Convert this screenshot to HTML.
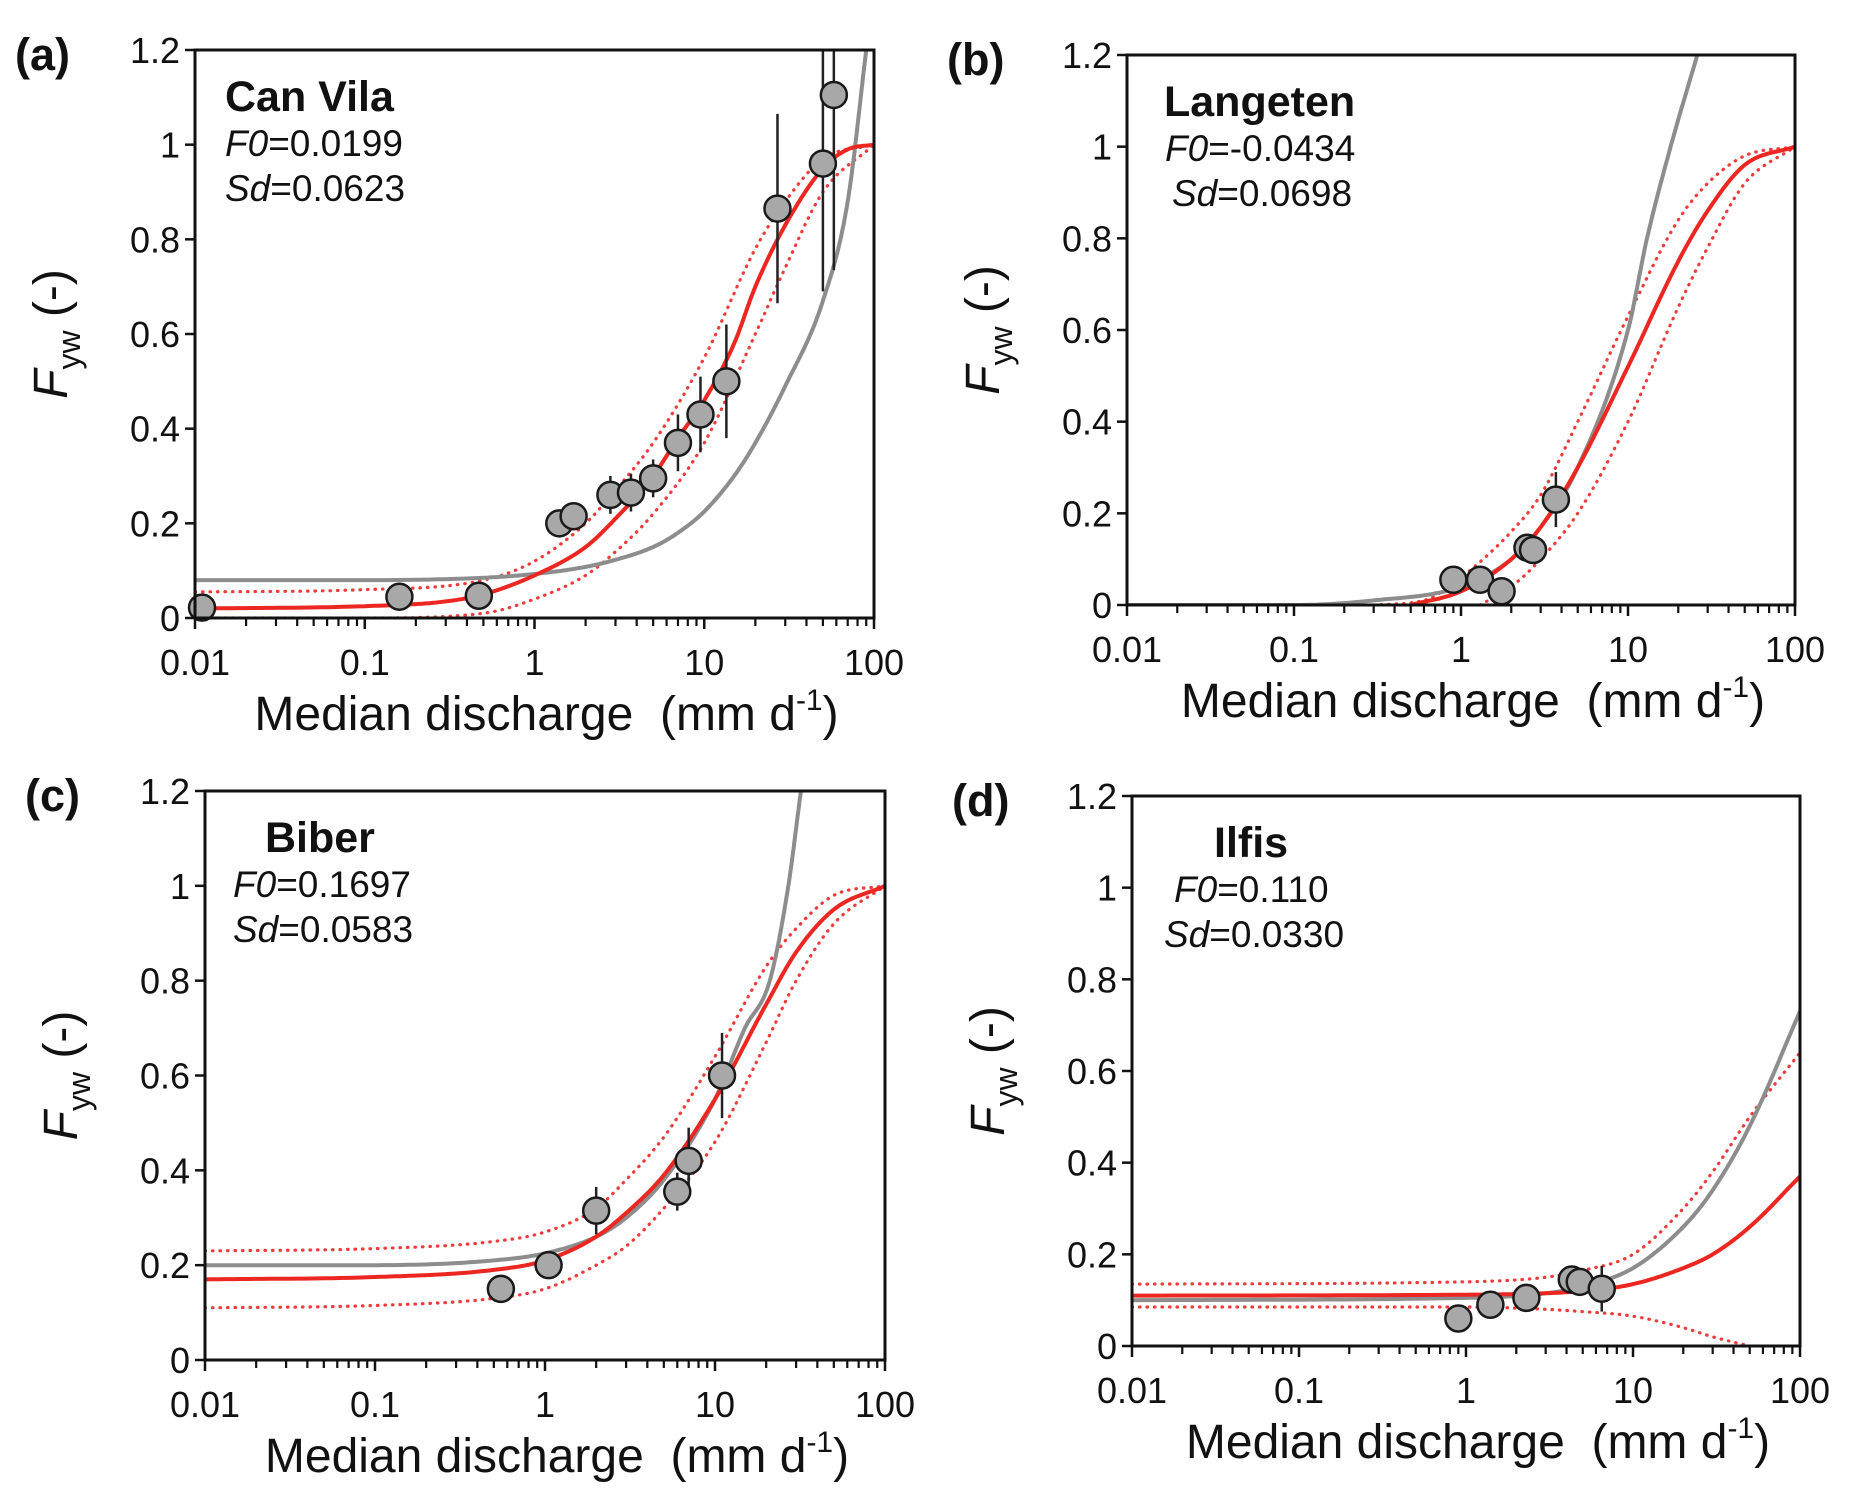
<!DOCTYPE html>
<html><head><meta charset="utf-8"><style>
html,body{margin:0;padding:0;background:#fff;}
svg{display:block;font-family:"Liberation Sans",Arial,sans-serif;}
</style></head><body>
<svg id="fig" width="1874" height="1495" viewBox="0 0 1874 1495" xmlns="http://www.w3.org/2000/svg"></svg>
<script>
// ---- data ----
const yTickLabels = ["0","0.2","0.4","0.6","0.8","1","1.2"];
const yTickValues = [0,0.2,0.4,0.6,0.8,1,1.2];
const xTickLabels = ["0.01","0.1","1","10","100"];
const xTickValues = [0.01,0.1,1,10,100];

// Panel a - Can Vila
const aRedX = [0.01,0.1,0.3,0.5,1,2,3,5,7,10,15,20,30,50,70,100];
const aRedY = [0.02,0.025,0.035,0.05,0.09,0.15,0.21,0.30,0.38,0.46,0.58,0.70,0.83,0.95,0.99,1.0];
const aUpX = [0.01,0.1,0.5,1,2,3,5,10,20,30,50,100];
const aUpY = [0.055,0.06,0.08,0.12,0.2,0.27,0.37,0.55,0.78,0.88,0.97,1.0];
const aLoX = [0.01,0.1,0.5,1,2,3,5,10,20,30,50,100];
const aLoY = [0,0,0.01,0.04,0.09,0.14,0.22,0.37,0.6,0.74,0.9,1.0];
const aGrayX = [0.01,0.1,0.5,1,2,3,5,7,10,15,20,30,50,70,90];
const aGrayY = [0.08,0.08,0.085,0.093,0.108,0.123,0.15,0.18,0.225,0.3,0.37,0.49,0.67,0.88,1.2];
const aPtX = [0.011,0.16,0.47,1.4,1.7,2.8,3.7,5,7,9.5,13.5,27,50,58];
const aPtY = [0.022,0.045,0.047,0.2,0.215,0.26,0.265,0.295,0.37,0.43,0.5,0.865,0.96,1.105];
const aPtE = [0,0,0,0,0,0.04,0.04,0.04,0.06,0.08,0.12,0.2,0.27,0.37];

// Panel b - Langeten
const bRedX = [0.5,1,2,3,5,10,20,30,50,100];
const bRedY = [0,0.03,0.1,0.17,0.3,0.52,0.75,0.86,0.96,1.0];
const bUpX = [0.3,0.6,1,2,3,5,10,20,30,50,100];
const bUpY = [0,0.01,0.06,0.16,0.24,0.4,0.63,0.84,0.92,0.98,1.0];
const bLoX = [1.3,2,3,5,10,20,30,50,100];
const bLoY = [0,0.04,0.1,0.2,0.4,0.65,0.78,0.92,1.0];
const bGrayX = [0.01,0.1,0.3,1,2,3,5,10,13,18,26];
const bGrayY = [0,0,0.01,0.04,0.1,0.17,0.3,0.6,0.8,1.0,1.2];
const bPtX = [0.9,1.3,1.75,2.5,2.7,3.7];
const bPtY = [0.055,0.055,0.03,0.125,0.12,0.23];
const bPtE = [0,0,0,0.02,0.03,0.06];

// Panel c - Biber
const cRedX = [0.01,0.1,0.5,1,2,3,5,10,20,30,50,100];
const cRedY = [0.17,0.175,0.19,0.21,0.26,0.31,0.39,0.55,0.75,0.86,0.95,1.0];
const cUpX = [0.01,0.1,0.5,1,2,3,5,10,20,30,50,100];
const cUpY = [0.23,0.235,0.25,0.27,0.32,0.38,0.47,0.64,0.83,0.91,0.98,1.0];
const cLoX = [0.01,0.1,0.5,1,2,3,5,10,20,30,50,100];
const cLoY = [0.11,0.115,0.13,0.15,0.2,0.24,0.32,0.46,0.67,0.8,0.92,1.0];
const cGrayX = [0.01,0.1,0.5,1,2,3,5,10,15,21,27,32];
const cGrayY = [0.2,0.2,0.21,0.225,0.26,0.3,0.38,0.55,0.7,0.8,1.0,1.2];
const cPtX = [0.55,1.05,2,6,7,11];
const cPtY = [0.15,0.2,0.315,0.355,0.42,0.6];
const cPtE = [0,0,0.05,0.04,0.07,0.09];

// Panel d - Ilfis
const dRedX = [0.01,1,5,10,20,30,50,100];
const dRedY = [0.11,0.112,0.12,0.135,0.17,0.2,0.26,0.37];
const dUpX = [0.01,1,3,5,10,20,30,50,100];
const dUpY = [0.135,0.14,0.15,0.165,0.2,0.3,0.38,0.5,0.64];
const dLoX = [0.01,1,3,5,10,20,30,50];
const dLoY = [0.085,0.085,0.08,0.075,0.065,0.04,0.02,0];
const dGrayX = [0.01,1,3,5,10,20,30,50,100];
const dGrayY = [0.1,0.105,0.115,0.13,0.17,0.26,0.34,0.48,0.73];
const dPtX = [0.9,1.4,2.3,4.3,4.8,6.5];
const dPtY = [0.06,0.09,0.105,0.145,0.14,0.125];
const dPtE = [0,0,0,0,0,0.05];

// ---- rendering ----
const NS = "http://www.w3.org/2000/svg";
const svg = document.getElementById('fig');
function mk(tag, attrs, parent){
  const e = document.createElementNS(NS, tag);
  for (const k in attrs) e.setAttribute(k, attrs[k]);
  (parent||svg).appendChild(e);
  return e;
}
function interp(xs, ys, n){
  const lx = xs.map(v=>Math.log10(v)), m = lx.length;
  const d = [], t = new Array(m);
  for (let i=0;i<m-1;i++) d.push((ys[i+1]-ys[i])/(lx[i+1]-lx[i]));
  t[0]=d[0]; t[m-1]=d[m-2];
  for (let i=1;i<m-1;i++) t[i] = (d[i-1]*d[i]<=0)?0:(d[i-1]+d[i])/2;
  for (let i=0;i<m-1;i++){
    if (d[i]===0){t[i]=0;t[i+1]=0;continue;}
    const a=t[i]/d[i], b=t[i+1]/d[i], s=a*a+b*b;
    if (s>9){const q=3/Math.sqrt(s); t[i]=q*a*d[i]; t[i+1]=q*b*d[i];}
  }
  const out=[];
  for (let i=0;i<m-1;i++){
    const h=lx[i+1]-lx[i];
    for (let k=0;k<n;k++){
      const u=k/n, h00=2*u*u*u-3*u*u+1, h10=u*u*u-2*u*u+u, h01=-2*u*u*u+3*u*u, h11=u*u*u-u*u;
      out.push([lx[i]+u*h, h00*ys[i]+h10*h*t[i]+h01*ys[i+1]+h11*h*t[i+1]]);
    }
  }
  out.push([lx[m-1], ys[m-1]]);
  return out;
}

const panels = [
 {id:'a', label:'(a)', name:'Can Vila', f0:'0.0199', sd:'0.0623', x0:195, x1:874, y0:50, y1:618,
  titleDx:30, f0Dx:30, sdDx:30,
  red:[aRedX,aRedY], up:[aUpX,aUpY], lo:[aLoX,aLoY], gray:[aGrayX,aGrayY], pts:[aPtX,aPtY,aPtE]},
 {id:'b', label:'(b)', name:'Langeten', f0:'-0.0434', sd:'0.0698', x0:1127, x1:1795, y0:55, y1:605,
  titleDx:37, f0Dx:38, sdDx:45,
  red:[bRedX,bRedY], up:[bUpX,bUpY], lo:[bLoX,bLoY], gray:[bGrayX,bGrayY], pts:[bPtX,bPtY,bPtE]},
 {id:'c', label:'(c)', name:'Biber', f0:'0.1697', sd:'0.0583', x0:205, x1:885, y0:791, y1:1360,
  titleDx:60, f0Dx:28, sdDx:28,
  red:[cRedX,cRedY], up:[cUpX,cUpY], lo:[cLoX,cLoY], gray:[cGrayX,cGrayY], pts:[cPtX,cPtY,cPtE]},
 {id:'d', label:'(d)', name:'Ilfis', f0:'0.110', sd:'0.0330', x0:1132, x1:1800, y0:796, y1:1346,
  titleDx:82, f0Dx:42, sdDx:32,
  red:[dRedX,dRedY], up:[dUpX,dUpY], lo:[dLoX,dLoY], gray:[dGrayX,dGrayY], pts:[dPtX,dPtY,dPtE]}
];

panels.forEach(p=>{
  const g = mk('g',{});
  
  
  const X = v => p.x0 + (Math.log10(v)+2)/4*(p.x1-p.x0);
  const XL = lv => p.x0 + (lv+2)/4*(p.x1-p.x0);
  const Y = v => p.y1 - v/1.2*(p.y1-p.y0);
  const cp = mk('clipPath',{id:'clip'+p.id}, g);
  mk('rect',{x:p.x0,y:p.y0,width:p.x1-p.x0,height:p.y1-p.y0}, cp);

  function line(arr, color, w, dash, nm){
    const pts = interp(arr[0], arr[1], 24);
    const dstr = pts.map((q,i)=>(i?'L':'M')+XL(q[0]).toFixed(1)+','+Y(q[1]).toFixed(1)).join(' ');
    const a = {d:dstr, fill:'none', stroke:color, 'stroke-width':w, 'clip-path':'url(#clip'+p.id+')', 'stroke-linejoin':'round'};
    if (dash){a['stroke-dasharray']=dash; a['stroke-linecap']='round';}
    const e = mk('path', a, g);
    
    
  }
  line(p.up,'#ee3b3b',3.2,'0.5 7','upper-bound-'+p.id);
  line(p.lo,'#ee3b3b',3.2,'0.5 7','lower-bound-'+p.id);
  line(p.gray,'#8d8d8d',4,null,'gray-fit-'+p.id);
  line(p.red,'#ec2620',4,null,'red-fit-'+p.id);

  const [px,py,pe] = p.pts;
  for (let i=0;i<px.length;i++){
    if (pe[i]>0){
      const eb = mk('line',{x1:X(px[i]),x2:X(px[i]),y1:Y(py[i]-pe[i]),y2:Y(py[i]+pe[i]),stroke:'#222','stroke-width':2.5,'clip-path':'url(#clip'+p.id+')'}, g);
      
      
    }
  }
  for (let i=0;i<px.length;i++){
    const c = mk('circle',{cx:X(px[i]),cy:Y(py[i]),r:13,fill:'#a8a8a8',stroke:'#1a1a1a','stroke-width':2.5}, g);
    
    
  }

  const fr = mk('rect',{x:p.x0,y:p.y0,width:p.x1-p.x0,height:p.y1-p.y0,fill:'none',stroke:'#111','stroke-width':3}, g);
  
  

  yTickValues.forEach((v,i)=>{
    mk('line',{x1:p.x0-10,x2:p.x0,y1:Y(v),y2:Y(v),stroke:'#111','stroke-width':2.5}, g);
    const t = mk('text',{x:p.x0-15,y:Y(v)+13,'text-anchor':'end','font-size':36,fill:'#111'}, g);
    t.textContent = yTickLabels[i];
    
    
  });
  for (let dec=-2; dec<2; dec++){
    for (let k=2;k<=9;k++){
      const xx = X(k*Math.pow(10,dec));
      mk('line',{x1:xx,x2:xx,y1:p.y1,y2:p.y1+8,stroke:'#111','stroke-width':2.2}, g);
    }
  }
  xTickValues.forEach((v,i)=>{
    mk('line',{x1:X(v),x2:X(v),y1:p.y1,y2:p.y1+11,stroke:'#111','stroke-width':2.5}, g);
    const t = mk('text',{x:X(v),y:p.y1+57,'text-anchor':'middle','font-size':36,fill:'#111'}, g);
    t.textContent = xTickLabels[i];
    
    
  });

  const xt = mk('text',{x:(p.x0+p.x1)/2+12,y:p.y1+112,'text-anchor':'middle','font-size':48,fill:'#111'}, g);
  xt.innerHTML = 'Median discharge&#160; (mm d<tspan font-size="30" dy="-20">-1</tspan><tspan dy="20">)</tspan>';
  
  
  const yc = (p.y0+p.y1)/2;
  const yt = mk('text',{x:0,y:0,'text-anchor':'middle','font-size':48,fill:'#111',transform:'translate('+(p.x0-128)+','+yc+') rotate(-90)'}, g);
  yt.innerHTML = '<tspan font-style="italic">F</tspan><tspan font-size="32" dy="13">yw</tspan><tspan dy="-13"> (-)</tspan>';
  
  

  const pl = mk('text',{x:p.x0-180,y:p.y0+20,'font-size':45,'font-weight':'bold',fill:'#111'}, g);
  pl.textContent = p.label;
  
  
  const ti = mk('text',{x:p.x0+p.titleDx,y:p.y0+61,'font-size':43,'font-weight':'bold',fill:'#111'}, g);
  ti.textContent = p.name;
  
  
  const f0 = mk('text',{x:p.x0+p.f0Dx,y:p.y0+106,'font-size':37,fill:'#111'}, g);
  f0.innerHTML = '<tspan font-style="italic">F0</tspan>='+p.f0;
  
  
  const sd = mk('text',{x:p.x0+p.sdDx,y:p.y0+151,'font-size':37,fill:'#111'}, g);
  sd.innerHTML = '<tspan font-style="italic">Sd</tspan>='+p.sd;
  
  
});
</script>
</body></html>
